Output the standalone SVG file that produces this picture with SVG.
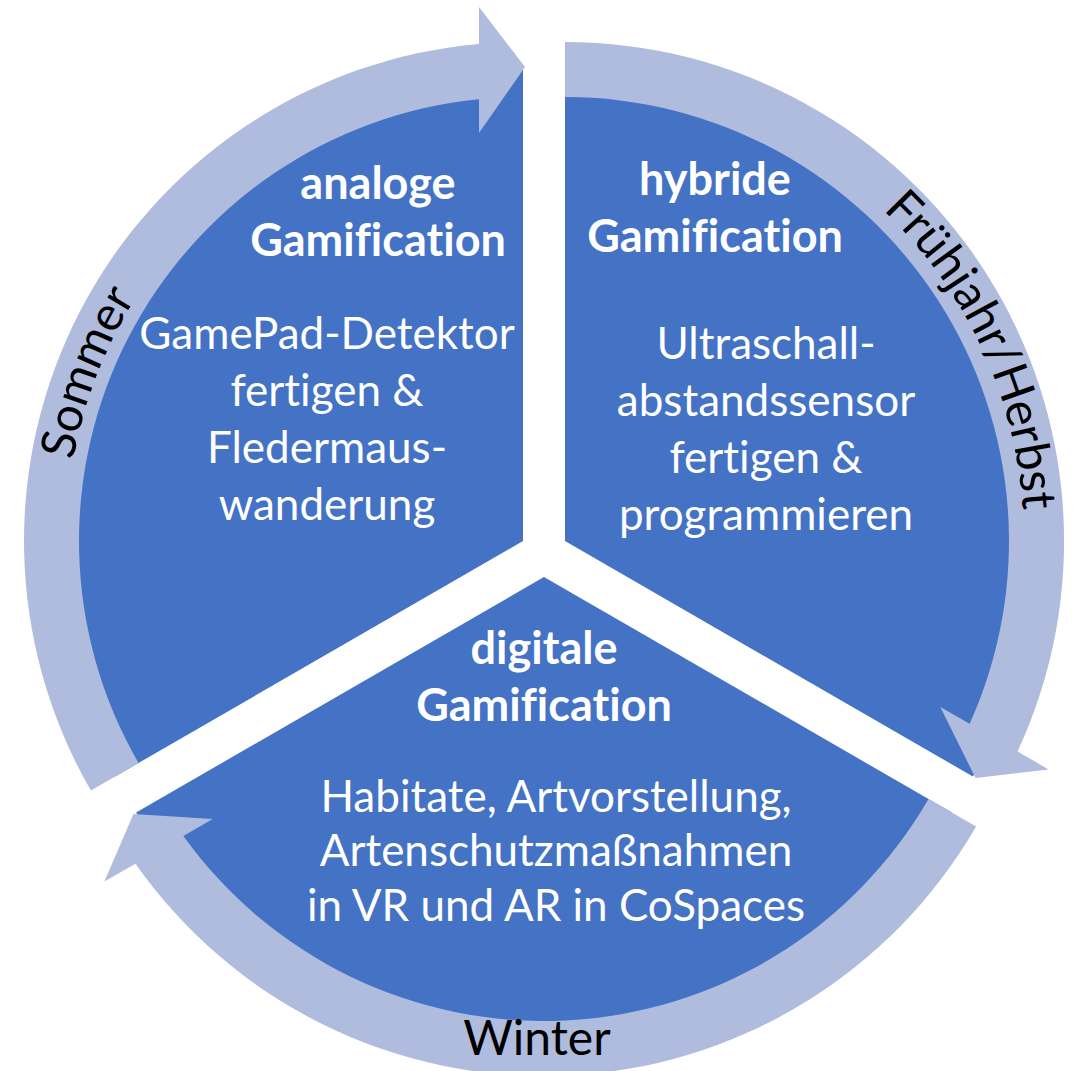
<svg xmlns="http://www.w3.org/2000/svg" width="1077" height="1071" viewBox="0 0 1077 1071">
<style>
.seg{fill:#4472C4;}
.arr{fill:#B0BCDE;}
.t{font-family:Lato,"Open Sans","Liberation Sans",sans-serif;fill:#FFFFFF;text-anchor:middle;font-size:44px;font-variant-ligatures:none;}
.b{font-weight:bold;font-size:45px;}
.lbl{font-family:Lato,"Open Sans","Liberation Sans",sans-serif;fill:#000000;font-size:48px;font-variant-ligatures:none;}
</style>
<defs>
<path id="pSommer" d="M76.3,637.2 A458,458 0 0 1 256.6,168.9"/>
<path id="pFH" d="M821.7,160.5 A459,459 0 0 1 1021.5,589.0"/>
</defs>
<rect width="1077" height="1071" fill="#FFFFFF"/>
<g id="node-analog">
<path class="seg" d="M523,541 L523,70 A471,471 0 0 0 115.1,776.5 Z"/>
<text class="t b" x="378" y="199">analoge</text>
<text class="t b" x="378" y="256">Gamification</text>
<text class="t" x="327" y="349">GamePad-Detektor</text>
<text class="t" x="327" y="406">fertigen &amp;</text>
<text class="t" x="327" y="463">Fledermaus-</text>
<text class="t" x="327" y="520">wanderung</text>
</g>
<g id="node-hybrid">
<path class="seg" d="M565,541 L565,70 A471,471 0 0 1 972.9,776.5 Z"/>
<text class="t b" x="715" y="195">hybride</text>
<text class="t b" x="715" y="252">Gamification</text>
<text class="t" x="766" y="359">Ultraschall-</text>
<text class="t" x="766" y="416">abstandssensor</text>
<text class="t" x="766" y="473">fertigen &amp;</text>
<text class="t" x="766" y="530">programmieren</text>
</g>
<g id="node-digital">
<path class="seg" d="M544,577 L951.9,812.5 A471,471 0 0 1 136.1,812.5 Z"/>
<text class="t b" x="544" y="664">digitale</text>
<text class="t b" x="544" y="721">Gamification</text>
<text class="t" x="556" y="812">Habitate, Artvorstellung,</text>
<text class="t" x="556" y="866">Artenschutzmaßnahmen</text>
<text class="t" x="556" y="921">in VR und AR in CoSpaces</text>
</g>
<g id="connectors">
<g id="arrow-sommer">
<path class="arr" d="M138.5,763 L90.9,790.5 A499,499 0 0 1 479,43.9 L479,7 L525,67 L479,133 L479,99.2 A444,444 0 0 0 138.5,763 Z"/>
<text class="lbl" text-anchor="middle"><textPath href="#pSommer" startOffset="50%">Sommer</textPath></text>
</g>
<g id="arrow-fh">
<path class="arr" d="M565,97 L565,42 A499,499 0 0 1 1017.5,751.5 L1048.6,769.4 L975.5,778 L940.3,706.9 L969.6,723.8 A444,444 0 0 0 565,97 Z"/>
<text class="lbl" text-anchor="middle"><textPath href="#pFH" startOffset="50%">Frühjahr/Herbst</textPath></text>
</g>
<g id="arrow-winter">
<path class="arr" d="M928.5,799 L976.1,826.5 A499,499 0 0 1 135.5,863.7 L104.4,881.6 L133.5,814 L212.7,819.1 L183.4,836 A444,444 0 0 0 928.5,799 Z"/>
<text class="lbl" text-anchor="middle" x="537" y="1055">Winter</text>
</g>
</g>
</svg>
